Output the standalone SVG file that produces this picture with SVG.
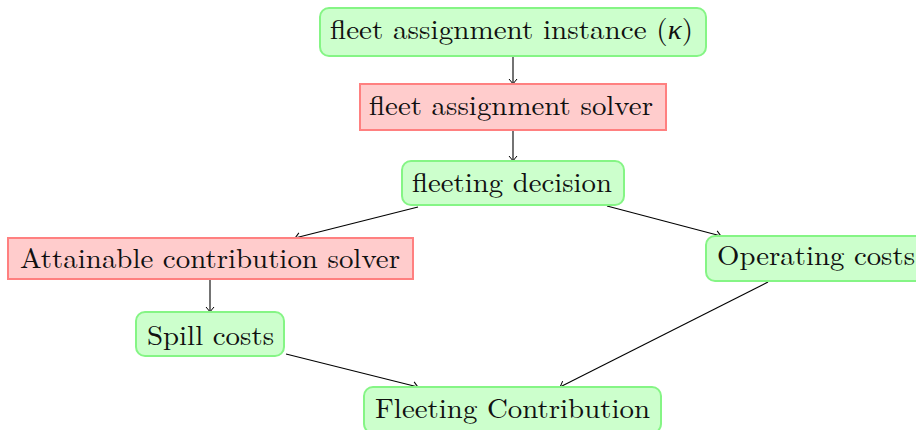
<svg xmlns="http://www.w3.org/2000/svg" width="916" height="430" viewBox="0 0 916 430">
<defs>
<marker id="arr" markerUnits="userSpaceOnUse" markerWidth="12" markerHeight="12" viewBox="-8 -6 10 12" refX="0" refY="0" orient="auto">
<path d="M -5 -4 Q -1.5 -1 0 0 Q -1.5 1 -5 4" fill="none" stroke="#000" stroke-width="1"/>
</marker>
</defs>
<style>
.g { fill: #ccffcc; stroke: #85f585; stroke-width: 2; }
.r { fill: #ffcccc; stroke: #ff8080; stroke-width: 2; }
.t { font-family: "Latin Modern Roman", "CMU Serif", "Liberation Serif", serif; font-size: 28px; fill: #111; }
.e { stroke: #000; stroke-width: 1.1; fill: none; marker-end: url(#arr); }
</style>
<g id="connectors">
<line class="e" x1="513" y1="56" x2="513" y2="84"/>
<line class="e" x1="513" y1="130" x2="513" y2="161"/>
<line class="e" x1="418" y1="207" x2="295" y2="238"/>
<line class="e" x1="607" y1="206" x2="721" y2="236"/>
<line class="e" x1="210" y1="279" x2="210" y2="312"/>
<line class="e" x1="286" y1="354" x2="418" y2="387"/>
<line class="e" x1="768" y1="282" x2="560" y2="387"/>
</g>
<g id="n1">
<rect class="g" x="320" y="8" width="386" height="48" rx="9"/>
<text class="t" x="330" y="39" textLength="363" lengthAdjust="spacingAndGlyphs">fleet assignment instance (<tspan font-style="italic">κ</tspan>)</text>
</g>
<g id="n2">
<rect class="r" x="360" y="84" width="306" height="46"/>
<text class="t" x="369" y="115" textLength="284" lengthAdjust="spacingAndGlyphs">fleet assignment solver</text>
</g>
<g id="n3">
<rect class="g" x="402" y="161" width="222" height="44" rx="9"/>
<text class="t" x="412" y="192" textLength="200" lengthAdjust="spacingAndGlyphs">fleeting decision</text>
</g>
<g id="n4">
<rect class="r" x="8" y="238" width="405" height="41"/>
<text class="t" x="20" y="268" textLength="380" lengthAdjust="spacingAndGlyphs">Attainable contribution solver</text>
</g>
<g id="n5">
<rect class="g" x="706" y="236" width="222" height="45" rx="9"/>
<text class="t" x="717" y="265" textLength="198" lengthAdjust="spacingAndGlyphs">Operating costs</text>
</g>
<g id="n6">
<rect class="g" x="136" y="312" width="148" height="44" rx="9"/>
<text class="t" x="147" y="345" textLength="127" lengthAdjust="spacingAndGlyphs">Spill costs</text>
</g>
<g id="n7">
<rect class="g" x="364" y="387" width="297" height="46" rx="9"/>
<text class="t" x="375" y="418" textLength="275" lengthAdjust="spacingAndGlyphs">Fleeting Contribution</text>
</g>
</svg>
